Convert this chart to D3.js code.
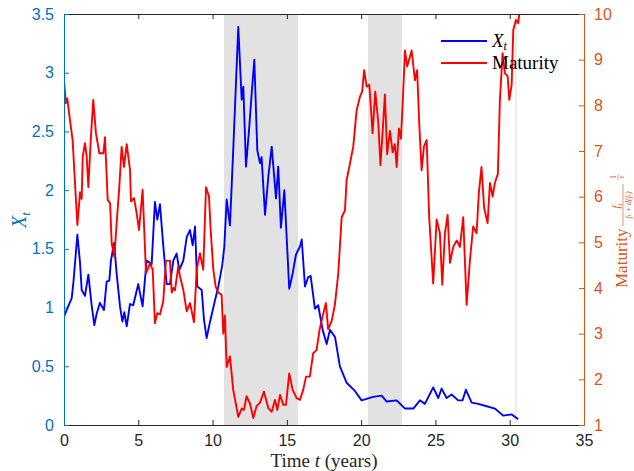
<!DOCTYPE html>
<html>
<head>
<meta charset="utf-8">
<script src="https://cdn.jsdelivr.net/npm/d3@7"></script>
<style>
  body { margin: 0; background: #fff; }
  svg { display: block; }
  .tick text { font-family: "Liberation Sans", Arial, sans-serif; font-size: 16px; }
  .serif { font-family: "Liberation Serif", "DejaVu Serif", serif; }
</style>
</head>
<body>
<div id="chart"></div>
<script>
// X_t series (years, value)
const timesX = [0, 0.18, 0.52, 0.63, 0.9, 1.08, 1.19, 1.41, 1.64, 1.86, 2.04, 2.2, 2.42, 2.69, 2.87, 3.05, 3.16, 3.37, 3.55, 3.77, 3.93, 4.06, 4.22, 4.44, 4.66, 5.0, 5.29, 5.56, 5.9, 6.12, 6.28, 6.46, 6.68, 6.91, 7.13, 7.36, 7.58, 7.76, 8.03, 8.26, 8.48, 8.66, 8.82, 8.97, 9.27, 9.42, 9.6, 9.83, 10.16, 10.39, 10.65, 10.79, 10.95, 11.17, 11.39, 11.73,
  11.96, 12.07, 12.25, 12.47, 12.63, 12.81, 13.01, 13.19, 13.3, 13.53, 13.75, 13.98, 14.27, 14.42, 14.6, 14.83, 15.16, 15.39, 15.61, 15.88, 16.0, 16.22, 16.44, 16.6, 16.89, 17.11, 17.41, 17.68, 17.9, 18.24, 18.57, 19.02, 19.58, 20.03, 20.81, 21.38, 21.72, 22.39,
  22.95, 23.51, 23.96, 24.29, 24.85, 25.19, 25.42, 25.75, 26.09, 26.53, 26.83, 27.05, 27.44, 27.88, 28.45, 29.0, 29.56, 30.13, 30.57];
const valuesX = [0.92, 0.98, 1.08, 1.21, 1.62, 1.38, 1.15, 1.1, 1.28, 1.02, 0.85, 0.95, 1.04, 0.98, 1.22, 1.23, 1.4, 1.55, 1.28, 1.01, 0.88, 0.96, 0.84, 1.03, 1.02, 1.2, 1.01, 1.4, 1.37, 1.9, 1.75, 1.88, 1.53, 1.2, 1.2, 1.4, 1.46, 1.32, 1.4, 1.6, 1.66, 1.53, 1.69, 1.18, 1.15, 0.9, 0.74, 0.88, 1.06, 1.18, 1.36, 1.52, 1.92, 1.7, 2.34, 3.39,
  2.77, 2.88, 2.2, 2.54, 2.82, 3.11, 2.34, 2.23, 2.28, 1.79, 2.11, 2.37, 1.93, 2.2, 1.68, 2.0, 1.16, 1.29, 1.45, 1.52, 1.58, 1.18, 1.26, 1.27, 0.99, 1.02, 0.81, 0.69, 0.81, 0.75, 0.5, 0.36, 0.29, 0.21, 0.24, 0.25, 0.2, 0.21,
  0.14, 0.14, 0.21, 0.18, 0.32, 0.23, 0.31, 0.23, 0.26, 0.21, 0.21, 0.3, 0.19, 0.18, 0.16, 0.14, 0.08, 0.09, 0.05];

// Maturity series (years, value)
const timesMat = [0, 0.13, 0.22, 0.4, 0.58, 0.74, 0.9, 1.08, 1.19, 1.26, 1.41, 1.53, 1.64, 1.8, 1.97, 2.15, 2.38, 2.65, 2.76, 2.94, 3.1, 3.21, 3.39, 3.55, 3.72, 3.88, 4.04, 4.22, 4.44, 4.51, 4.71, 4.89, 5.05, 5.29, 5.52, 5.79, 5.97, 6.12, 6.28, 6.46, 6.68, 6.86, 7.13, 7.25, 7.36, 7.47, 7.69, 7.81, 8.03, 8.26, 8.48, 8.75, 8.93, 9.15, 9.37, 9.56, 9.76, 9.87, 10.05, 10.21, 10.39, 10.61, 10.72, 10.83, 10.95, 11.17, 11.39, 11.73,
  11.96, 12.11, 12.29, 12.52, 12.74, 12.97, 13.19, 13.46, 13.75, 13.98, 14.2, 14.36, 14.54, 14.76, 14.94, 15.16, 15.39, 15.66, 15.88, 16.1, 16.29, 16.55, 16.77, 17.0, 17.2, 17.4, 17.63, 17.78, 18.02, 18.24, 18.46, 18.69, 18.91, 19.02, 19.25, 19.47, 19.7, 19.92, 20.07, 20.2, 20.37, 20.55, 20.77, 20.95, 21.15, 21.3, 21.44, 21.6, 21.75, 21.94, 22.12, 22.27, 22.39, 22.54, 22.68, 22.79,
  22.95, 23.1, 23.4, 23.62, 23.77, 23.91, 24.07, 24.23, 24.41, 24.58, 24.85, 25.08, 25.3, 25.46, 25.64, 25.82, 25.98, 26.2, 26.43, 26.65, 26.87, 27.1, 27.32, 27.54, 27.77, 27.92, 28.1, 28.28, 28.51, 28.67, 28.85, 29.0, 29.2, 29.34, 29.52, 29.68, 29.86, 29.97, 30.13, 30.24, 30.42, 30.57, 30.68];
const valuesMat = [8.55, 8.05, 8.15, 7.68, 7.24, 6.3, 5.38, 6.1, 5.95, 6.87, 7.17, 6.87, 6.21, 7.24, 8.12, 7.39, 6.95, 6.95, 7.3, 5.93, 5.86, 4.98, 4.68, 5.45, 6.2, 7.09, 6.65, 7.15, 6.6, 5.9, 5.97, 5.64, 5.27, 6.15, 4.32, 4.54, 4.4, 3.23, 3.45, 3.42, 3.71, 4.6, 4.6, 3.9, 4.0, 3.95, 4.47, 4.25, 3.96, 3.49, 3.67, 3.25, 4.4, 4.76, 4.4, 6.21, 6.0, 5.28, 4.4, 4.03, 3.9, 3.85, 3.0, 3.4, 2.27, 2.5, 1.77, 1.18,
  1.36, 1.33, 1.63, 1.47, 1.15, 1.42, 1.49, 1.73, 1.37, 1.29, 1.55, 1.33, 1.66, 1.44, 1.44, 2.13, 1.77, 1.59, 1.55, 1.77, 2.06, 2.06, 2.57, 2.64, 3.08, 3.37, 3.67, 3.1, 3.28, 3.65, 4.32, 5.55, 5.7, 6.36, 6.73, 7.1, 7.9, 8.19, 8.3, 8.77, 8.41, 8.45, 7.39, 8.3, 7.64, 6.69, 7.39, 8.24, 6.93, 7.44, 6.97, 7.15, 6.65, 7.49, 7.27, 8.0,
  9.2, 8.85, 9.2, 8.55, 8.77, 7.6, 6.58, 7.1, 7.24, 5.55, 4.1, 5.5, 5.2, 4.07, 5.2, 5.6, 4.55, 4.9, 5.04, 4.9, 5.55, 3.63, 4.6, 5.35, 5.2, 6.07, 6.65, 5.75, 5.42, 6.3, 6.0, 6.3, 6.5, 8.12, 9.14, 8.7, 8.64, 8.12, 8.45, 9.65, 9.87, 9.8, 10.1];

// shaded periods [start, end] in years
const shadeStarts = [10.77, 20.46, 30.38];
const shadeEnds = [15.75, 22.75, 30.46];

const xTicks = [0, 5, 10, 15, 20, 25, 30, 35];
const leftTicks = [0, 0.5, 1, 1.5, 2, 2.5, 3, 3.5];
const rightTicks = [1, 2, 3, 4, 5, 6, 7, 8, 9, 10];

const W = 634, H = 471;
const margin = {top: 14, right: 50, bottom: 46, left: 64};
const iw = W - margin.left - margin.right;
const ih = H - margin.top - margin.bottom;

const blueAxis = '#0072BD', orangeAxis = '#D95319', grayAxis = '#262626';

const svg = d3.select('#chart').append('svg')
  .attr('width', W).attr('height', H);

const g = svg.append('g').attr('transform', `translate(${margin.left},${margin.top})`);

const x = d3.scaleLinear().domain([0, 35]).range([0, iw]);
const yL = d3.scaleLinear().domain([0, 3.5]).range([ih, 0]);
const yR = d3.scaleLinear().domain([1, 10]).range([ih, 0]);

g.append('clipPath').attr('id', 'clip')
  .append('rect').attr('width', iw).attr('height', ih);

// shading
g.append('g').selectAll('rect')
  .data(shadeStarts.map((s, i) => [s, shadeEnds[i]]))
  .enter().append('rect')
  .attr('x', d => x(d[0]))
  .attr('width', d => x(d[1]) - x(d[0]))
  .attr('y', 0).attr('height', ih)
  .attr('fill', '#e2e2e2');

const plot = g.append('g').attr('clip-path', 'url(#clip)');

const lineX = d3.line().x(d => x(d[0])).y(d => yL(d[1]));
const lineM = d3.line().x(d => x(d[0])).y(d => yR(d[1]));

plot.append('path')
  .datum(timesX.map((t, i) => [t, valuesX[i]]))
  .attr('d', lineX).attr('fill', 'none')
  .attr('stroke', '#0000ff').attr('stroke-width', 1.9).attr('stroke-linejoin', 'round');

plot.append('path')
  .datum(timesMat.map((t, i) => [t, valuesMat[i]]))
  .attr('d', lineM).attr('fill', 'none')
  .attr('stroke', '#ff0000').attr('stroke-width', 1.9).attr('stroke-linejoin', 'round');

// axes (ticks pointing inward like matlab)
const styleAxis = (sel, color) => {
  sel.select('.domain').attr('stroke', color);
  sel.selectAll('.tick line').attr('stroke', color);
  sel.selectAll('.tick text').attr('fill', color);
};

const axBottom = g.append('g').attr('transform', `translate(0,${ih})`)
  .call(d3.axisBottom(x).tickValues(xTicks).tickSize(-5).tickPadding(10).tickSizeOuter(0));
styleAxis(axBottom, grayAxis);

const axTop = g.append('g')
  .call(d3.axisTop(x).tickValues(xTicks).tickSize(-5).tickFormat('').tickSizeOuter(0));
styleAxis(axTop, grayAxis);

const axLeft = g.append('g')
  .call(d3.axisLeft(yL).tickValues(leftTicks).tickSize(-5).tickPadding(10).tickSizeOuter(0)
    .tickFormat(d => d3.format('')(d)));
styleAxis(axLeft, blueAxis);

const axRight = g.append('g').attr('transform', `translate(${iw},0)`)
  .call(d3.axisRight(yR).tickValues(rightTicks).tickSize(-5).tickPadding(10).tickSizeOuter(0));
styleAxis(axRight, orangeAxis);

// x label
svg.append('text').attr('class', 'serif')
  .attr('x', margin.left + iw / 2).attr('y', H - 4)
  .attr('text-anchor', 'middle').attr('font-size', 19).attr('fill', grayAxis)
  .html('Time <tspan font-style="italic">t</tspan> (years)');

// left label X_t
const ll = svg.append('text').attr('class', 'serif')
  .attr('transform', `translate(26,220) rotate(-90)`)
  .attr('text-anchor', 'middle').attr('font-size', 20).attr('fill', blueAxis);
ll.append('tspan').attr('font-style', 'italic').text('X');
ll.append('tspan').attr('font-style', 'italic').attr('font-size', 13).attr('dy', 4).text('t');

// right label: Maturity (f_t / (f_t + d(f_t)))^(1/eps)
const rl = svg.append('g')
  .attr('transform', `translate(627,288) rotate(-90)`)
  .attr('fill', orangeAxis).attr('class', 'serif');
rl.append('text').attr('x', 0).attr('y', 0).attr('font-size', 17).text('Maturity');
rl.append('text').attr('x', 82).attr('y', -7).attr('font-size', 10).attr('font-style', 'italic')
  .attr('text-anchor', 'middle').html('f<tspan font-size="7" dy="2">t</tspan>');
rl.append('line').attr('x1', 62).attr('x2', 104).attr('y1', -4).attr('y2', -4)
  .attr('stroke', orangeAxis).attr('stroke-width', 0.6);
rl.append('text').attr('x', 83).attr('y', 4).attr('font-size', 8).attr('font-style', 'italic')
  .attr('text-anchor', 'middle').text('f\u209C + d(f\u209C)');
rl.append('text').attr('x', 111).attr('y', -11).attr('font-size', 8).attr('text-anchor', 'middle').text('1');
rl.append('line').attr('x1', 108).attr('x2', 114).attr('y1', -9).attr('y2', -9)
  .attr('stroke', orangeAxis).attr('stroke-width', 0.5);
rl.append('text').attr('x', 111).attr('y', -3).attr('font-size', 8).attr('font-style', 'italic')
  .attr('text-anchor', 'middle').text('\u03B5');

// legend
const legendItems = ['X', 'Maturity'];
const legendColors = ['#0000ff', '#ff0000'];
const lg = svg.append('g').attr('transform', 'translate(441,41)');
legendItems.forEach((name, i) => {
  const row = lg.append('g').attr('transform', `translate(0,${i * 22})`);
  row.append('line').attr('x1', 0).attr('x2', 46).attr('y1', 0).attr('y2', 0)
    .attr('stroke', legendColors[i]).attr('stroke-width', 1.9);
  const t = row.append('text').attr('class', 'serif').attr('x', 51).attr('y', 6)
    .attr('font-size', 19).attr('fill', '#000');
  if (i === 0) {
    t.append('tspan').attr('font-style', 'italic').text('X');
    t.append('tspan').attr('font-style', 'italic').attr('font-size', 12).attr('dy', 3).text('t');
  } else {
    t.text(name);
  }
});
</script>
</body>
</html>
